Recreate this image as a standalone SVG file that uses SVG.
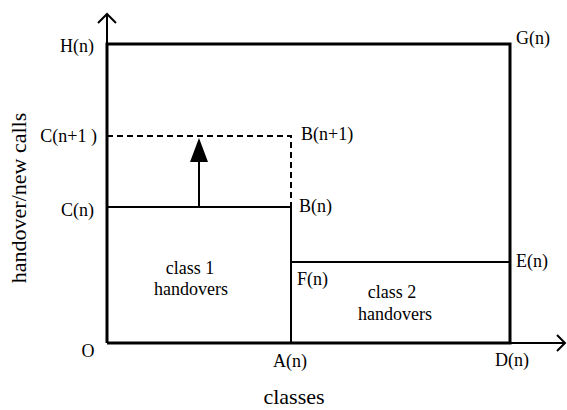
<svg xmlns="http://www.w3.org/2000/svg" width="567" height="410" viewBox="0 0 567 410">
<style>
text{font-family:'Liberation Serif','DejaVu Serif',serif;fill:#000}
.t{font-size:18px}
.ax{font-size:22px}
.thick{stroke:#000;stroke-width:3;fill:none}
.thin{stroke:#000;stroke-width:2;fill:none}
.dash{stroke:#000;stroke-width:2;fill:none;stroke-dasharray:6 4}
</style>
<rect width="567" height="410" fill="#fff"/>
<g id="connectors">
<path class="thin" d="M107 44V14"/>
<path class="thin" d="M98 23L107 14L116 23"/>
<path class="thin" d="M510 343H565"/>
<path class="thin" d="M557 335L565 343L557 351"/>
<path class="thick" d="M107 343V44H510V343H107"/>
<path class="thin" d="M291 343V207"/>
<path class="thin" d="M107 207H291"/>
<path class="thin" d="M291 262H510"/>
<path class="dash" d="M107 136H291V207"/>
<path class="thin" d="M199 207V160"/>
<polygon points="190,162 208,162 199,138" fill="#000"/>
</g>
<g id="axis-labels">
<text class="ax" font-family="Liberation Serif, serif" transform="translate(26,198) rotate(-90)" text-anchor="middle">handover/new calls</text>
<text class="ax" font-family="Liberation Serif, serif" x="294" y="404" text-anchor="middle">classes</text>
</g>
<g id="node-H"><text class="t" font-family="Liberation Serif, serif" x="94" y="52" text-anchor="end">H(n)</text></g>
<g id="node-C1"><text class="t" font-family="Liberation Serif, serif" x="97" y="142" text-anchor="end" xml:space="preserve">C(n+1 )</text></g>
<g id="node-C"><text class="t" font-family="Liberation Serif, serif" x="94" y="216" text-anchor="end">C(n)</text></g>
<g id="node-O"><text class="t" font-family="Liberation Serif, serif" x="88" y="357" text-anchor="middle">O</text></g>
<g id="node-A"><text class="t" font-family="Liberation Serif, serif" x="290" y="367" text-anchor="middle">A(n)</text></g>
<g id="node-D"><text class="t" font-family="Liberation Serif, serif" x="512" y="366" text-anchor="middle">D(n)</text></g>
<g id="node-G"><text class="t" font-family="Liberation Serif, serif" x="516" y="44">G(n)</text></g>
<g id="node-B1"><text class="t" font-family="Liberation Serif, serif" x="301" y="140">B(n+1)</text></g>
<g id="node-B"><text class="t" font-family="Liberation Serif, serif" x="299" y="212">B(n)</text></g>
<g id="node-E"><text class="t" font-family="Liberation Serif, serif" x="516" y="267">E(n)</text></g>
<g id="node-F"><text class="t" font-family="Liberation Serif, serif" x="297" y="285">F(n)</text></g>
<g id="class1"><text class="t" font-family="Liberation Serif, serif" x="190" y="274" text-anchor="middle">class 1</text><text class="t" font-family="Liberation Serif, serif" x="191" y="295" text-anchor="middle">handovers</text></g>
<g id="class2"><text class="t" font-family="Liberation Serif, serif" x="392" y="298" text-anchor="middle">class 2</text><text class="t" font-family="Liberation Serif, serif" x="395" y="320" text-anchor="middle">handovers</text></g>
</svg>
